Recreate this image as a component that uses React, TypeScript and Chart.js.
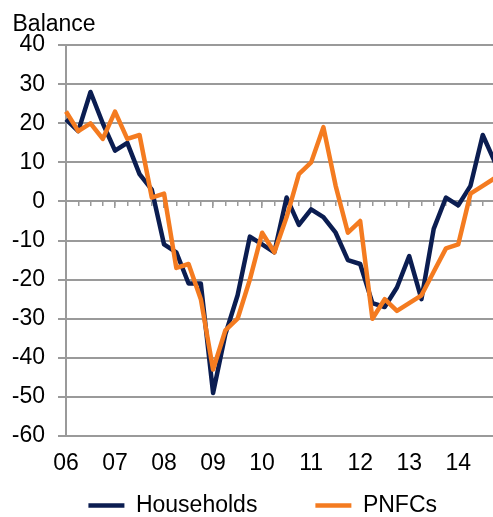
import React, { useEffect, useRef } from 'react';
import { Chart, registerables } from 'chart.js';

Chart.register(...registerables);

// ---- data ----
const years = ['06', '07', '08', '09', '10', '11', '12', '13', '14'];
const quarters = ['Q1', 'Q2', 'Q3', 'Q4'];
const seriesNames = ['Households', 'PNFCs'];
const households = [
  21, 18, 28, 20, 13, 15, 7, 3,
  -11, -13, -21, -21, -49, -34, -24, -9,
  -11, -13, 1, -6, -2, -4, -8, -15,
  -16, -26, -27, -22, -14, -25, -7, 1,
  -1, 4, 17, 10,
];
const pnfcs = [
  23, 18, 20, 16, 23, 16, 17, 1,
  2, -17, -16, -25, -43, -33, -30, -20,
  -8, -13, -4, 7, 10, 19, 4, -8,
  -5, -30, -25, -28, -26, -24, -18, -12,
  -11, 2, 4, 6,
];
const yMin = -60;
const yMax = 40;
const yStep = 10;
const yTitle = 'Balance';

const categories = years.flatMap((y) => quarters.map((q) => `${y} ${q}`));

// ---- style ----
const NAVY = '#0b1d51';
const ORANGE = '#f47b20';
const GRID = '#9a9a9a';
const FONT = "'Liberation Sans', Arial, Helvetica, sans-serif";
const FS = 23;

export default function App() {
  const ref = useRef<HTMLCanvasElement | null>(null);

  useEffect(() => {
    if (!ref.current) return;
    Chart.defaults.font.family = FONT;
    Chart.defaults.color = '#000';
    const chart = new Chart(ref.current, {
      type: 'line',
      data: {
        labels: categories,
        datasets: [
          {
            label: seriesNames[0],
            data: households,
            borderColor: NAVY,
            backgroundColor: NAVY,
            borderWidth: 4.5,
            pointRadius: 0,
            pointHoverRadius: 0,
            tension: 0,
            borderJoinStyle: 'round',
            order: 2,
          },
          {
            label: seriesNames[1],
            data: pnfcs,
            borderColor: ORANGE,
            backgroundColor: ORANGE,
            borderWidth: 4.5,
            pointRadius: 0,
            pointHoverRadius: 0,
            tension: 0,
            borderJoinStyle: 'round',
            order: 1,
          },
        ],
      },
      options: {
        responsive: false,
        animation: false,
        events: [],
        layout: { padding: { left: 12.5, right: 14, top: 0, bottom: 0 } },
        plugins: {
          tooltip: { enabled: false },
          title: {
            display: true,
            text: yTitle,
            align: 'start',
            color: '#000',
            font: { size: FS, weight: 'normal', family: FONT },
            padding: { top: 11, bottom: 6.5 },
          },
          legend: {
            position: 'bottom',
            align: 'end',
            labels: {
              usePointStyle: true,
              pointStyle: 'line',
              pointStyleWidth: 36,
              padding: 58,
              color: '#000',
              font: { size: FS, family: FONT },
              sort: (a: any, b: any) => a.datasetIndex - b.datasetIndex,
            },
          },
        },
        scales: {
          x: {
            type: 'category',
            offset: false,
            display: false,
          },
          xLabels: {
            type: 'category',
            position: { y: yMin },
            offset: false,
            grid: { display: false, drawTicks: false },
            border: { display: false },
            ticks: {
              autoSkip: false,
              maxRotation: 0,
              minRotation: 0,
              padding: 14,
              color: '#000',
              font: { size: FS, family: FONT },
              callback: (_v: any, i: number) => (i % 4 === 0 ? years[i / 4] : ''),
            },
          },
          xMinor: {
            type: 'category',
            position: { y: 0 },
            offset: false,
            grid: { drawOnChartArea: false, drawTicks: true, tickLength: 5, color: GRID, lineWidth: 1.5 },
            border: { display: false },
            ticks: { display: false, autoSkip: false },
          },
          xMajor: {
            type: 'category',
            position: { y: 0 },
            offset: false,
            grid: {
              drawOnChartArea: false,
              drawTicks: true,
              tickLength: 7,
              color: (ctx: any) => (ctx.index % 4 === 0 ? GRID : 'rgba(0,0,0,0)'),
              lineWidth: 1.5,
            },
            border: { display: false },
            ticks: { display: false, autoSkip: false },
          },
          y: {
            min: yMin,
            max: yMax,
            ticks: {
              stepSize: yStep,
              color: '#000',
              padding: 13,
              font: { size: FS, family: FONT },
            },
            grid: { color: GRID, lineWidth: 2, tickLength: 8, drawTicks: true },
            border: { display: true, color: GRID, width: 2 },
            afterFit: (s: any) => {
              s.width = 53.5;
            },
          },
        },
      },
    } as any);
    return () => chart.destroy();
  }, []);

  return (
    <div
      style={{
        position: 'fixed',
        left: 0,
        top: 0,
        width: 493,
        height: 517,
        overflow: 'hidden',
        background: '#fff',
      }}
    >
      <canvas ref={ref} width={509.5} height={527} style={{ display: 'block' }} />
    </div>
  );
}
